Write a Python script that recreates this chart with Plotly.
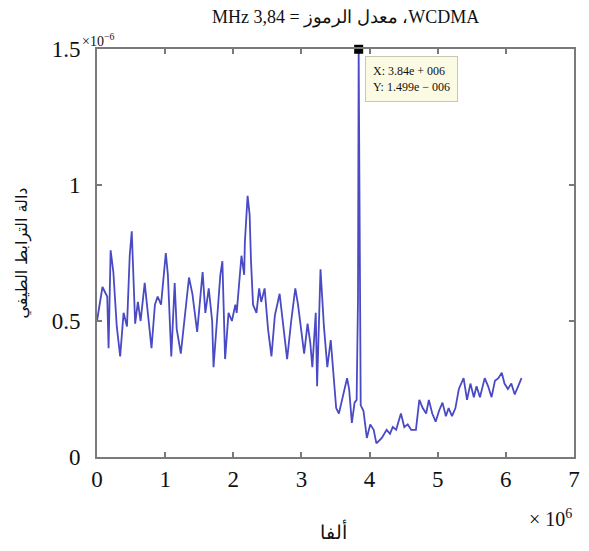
import plotly.graph_objects as go

# Frequency alpha (in units of 1e6) and spectral correlation values (in units of 1e-6)
alpha_m = [0.00, 0.08, 0.15, 0.17, 0.20, 0.24, 0.29, 0.34, 0.39, 0.44, 0.48, 0.51, 0.56, 0.60, 0.64,
           0.70, 0.75, 0.80, 0.85, 0.89, 0.94, 1.01, 1.04, 1.09, 1.14, 1.17, 1.23, 1.31, 1.35, 1.40,
           1.45, 1.47, 1.55, 1.59, 1.64, 1.69, 1.71, 1.76, 1.81, 1.84, 1.88, 1.93, 1.98, 2.03, 2.05,
           2.12, 2.16, 2.17, 2.21, 2.24, 2.26, 2.29, 2.34, 2.38, 2.41, 2.46, 2.51, 2.56, 2.61, 2.68,
           2.73, 2.79, 2.85, 2.91, 2.95, 2.99, 3.04, 3.09, 3.13, 3.16, 3.21, 3.23, 3.28, 3.33, 3.38,
           3.43, 3.48, 3.51, 3.55, 3.60, 3.67, 3.70, 3.74, 3.78, 3.81, 3.83, 3.84, 3.85, 3.87, 3.91,
           3.96, 4.01, 4.06, 4.10, 4.18, 4.25, 4.30, 4.34, 4.39, 4.46, 4.51, 4.56, 4.61, 4.68, 4.73,
           4.78, 4.83, 4.87, 4.92, 4.97, 5.02, 5.07, 5.12, 5.16, 5.21, 5.26, 5.31, 5.38, 5.43, 5.48,
           5.53, 5.57, 5.62, 5.69, 5.74, 5.79, 5.84, 5.89, 5.94, 5.98, 6.03, 6.08, 6.13, 6.18, 6.23]
scf_u = [0.50, 0.625, 0.59, 0.40, 0.76, 0.68, 0.48, 0.37, 0.53, 0.48, 0.74, 0.83, 0.49, 0.57, 0.50,
         0.64, 0.52, 0.40, 0.56, 0.59, 0.56, 0.75, 0.67, 0.37, 0.64, 0.47, 0.38, 0.57, 0.66, 0.60,
         0.50, 0.46, 0.68, 0.53, 0.62, 0.50, 0.33, 0.52, 0.67, 0.72, 0.36, 0.53, 0.50, 0.56, 0.53,
         0.74, 0.67, 0.79, 0.96, 0.89, 0.72, 0.56, 0.53, 0.62, 0.57, 0.62, 0.47, 0.37, 0.52, 0.60,
         0.48, 0.36, 0.50, 0.62, 0.56, 0.47, 0.38, 0.49, 0.42, 0.33, 0.53, 0.26, 0.69, 0.48, 0.33,
         0.43, 0.29, 0.18, 0.16, 0.21, 0.29, 0.25, 0.125, 0.20, 0.21, 0.58, 1.499, 1.05, 0.19, 0.17,
         0.07, 0.12, 0.10, 0.05, 0.07, 0.10, 0.085, 0.11, 0.10, 0.16, 0.11, 0.12, 0.10, 0.10, 0.21,
         0.18, 0.16, 0.21, 0.16, 0.13, 0.17, 0.20, 0.15, 0.18, 0.15, 0.18, 0.25, 0.29, 0.21, 0.27,
         0.22, 0.26, 0.22, 0.29, 0.26, 0.22, 0.28, 0.29, 0.31, 0.27, 0.25, 0.27, 0.23, 0.26, 0.29]

X_SCALE = 1e6
Y_SCALE = 1e-6
x_ticks = [0, 1, 2, 3, 4, 5, 6, 7]
y_ticks = [0, 0.5, 1, 1.5]
y_tick_text = ["0", "0.5", "1", "1.5"]

title_text = "\u202bWCDMA، معدل الرموز = 3,84 MHz\u202c"
ytitle = "دالة الترابط الطيفي"
xtitle = "ألفا"

xs = [a * X_SCALE for a in alpha_m]
ys = [v * Y_SCALE for v in scf_u]
imax = max(range(len(ys)), key=lambda i: ys[i])

serif = "Liberation Serif, Times New Roman, serif"

fig = go.Figure()
fig.add_trace(go.Scatter(x=xs, y=ys, mode="lines",
                         line=dict(color="#4a4ac4", width=1.8), showlegend=False))
fig.add_trace(go.Scatter(x=[xs[imax]], y=[ys[imax]], mode="markers",
                         marker=dict(symbol="square", size=9, color="black"),
                         showlegend=False, cliponaxis=False))

axis_common = dict(showgrid=False, zeroline=False, showline=True, linecolor="#7a7a7a",
                   linewidth=2, mirror="allticks", ticks="inside", ticklen=5,
                   tickcolor="#7a7a7a", tickwidth=1.5,
                   tickfont=dict(family=serif, size=23, color="#111"))

fig.update_xaxes(range=[0, 7 * X_SCALE], tickvals=[t * X_SCALE for t in x_ticks],
                 ticktext=[str(t) for t in x_ticks], **axis_common)
fig.update_yaxes(range=[0, 1.5 * Y_SCALE], tickvals=[t * Y_SCALE for t in y_ticks],
                 ticktext=y_tick_text, ticklabelstandoff=10,
                 title=dict(text=ytitle, font=dict(family="DejaVu Sans", size=16, color="#111"),
                            standoff=20),
                 **axis_common)

fig.update_layout(
    width=589, height=551,
    margin=dict(l=97, r=9, t=49, b=94),
    paper_bgcolor="white", plot_bgcolor="white",
    annotations=[
        dict(text=title_text, xref="paper", yref="paper", x=0.522, y=(457 - 17) / 408,
             showarrow=False, xanchor="center", yanchor="middle",
             font=dict(family=serif, size=18, color="#111")),
        dict(text=xtitle, xref="paper", yref="paper", x=0.495, y=(457 - 531) / 408,
             showarrow=False, xanchor="center", yanchor="middle",
             font=dict(family=serif, size=19, color="#111")),
        dict(text="× 10<sup>6</sup>", xref="paper", yref="paper", x=1.0, y=(457 - 518) / 408,
             showarrow=False, xanchor="right", yanchor="middle",
             font=dict(family=serif, size=20, color="#111")),
        dict(text="×10<sup>−6</sup>", xref="paper", yref="paper", x=-0.036, y=(457 - 40) / 408,
             showarrow=False, xanchor="left", yanchor="middle",
             font=dict(family=serif, size=14, color="#111")),
        dict(text="X: 3.84e + 006<br>Y: 1.499e − 006", xref="x", yref="y",
             x=3.94 * X_SCALE, y=1.475 * Y_SCALE, xanchor="left", yanchor="top",
             showarrow=False, align="left", bgcolor="#fbfbe4", bordercolor="#c8c8b8",
             borderwidth=1, borderpad=7,
             font=dict(family=serif, size=12, color="#111")),
    ],
)

fig.write_html("out.html")
